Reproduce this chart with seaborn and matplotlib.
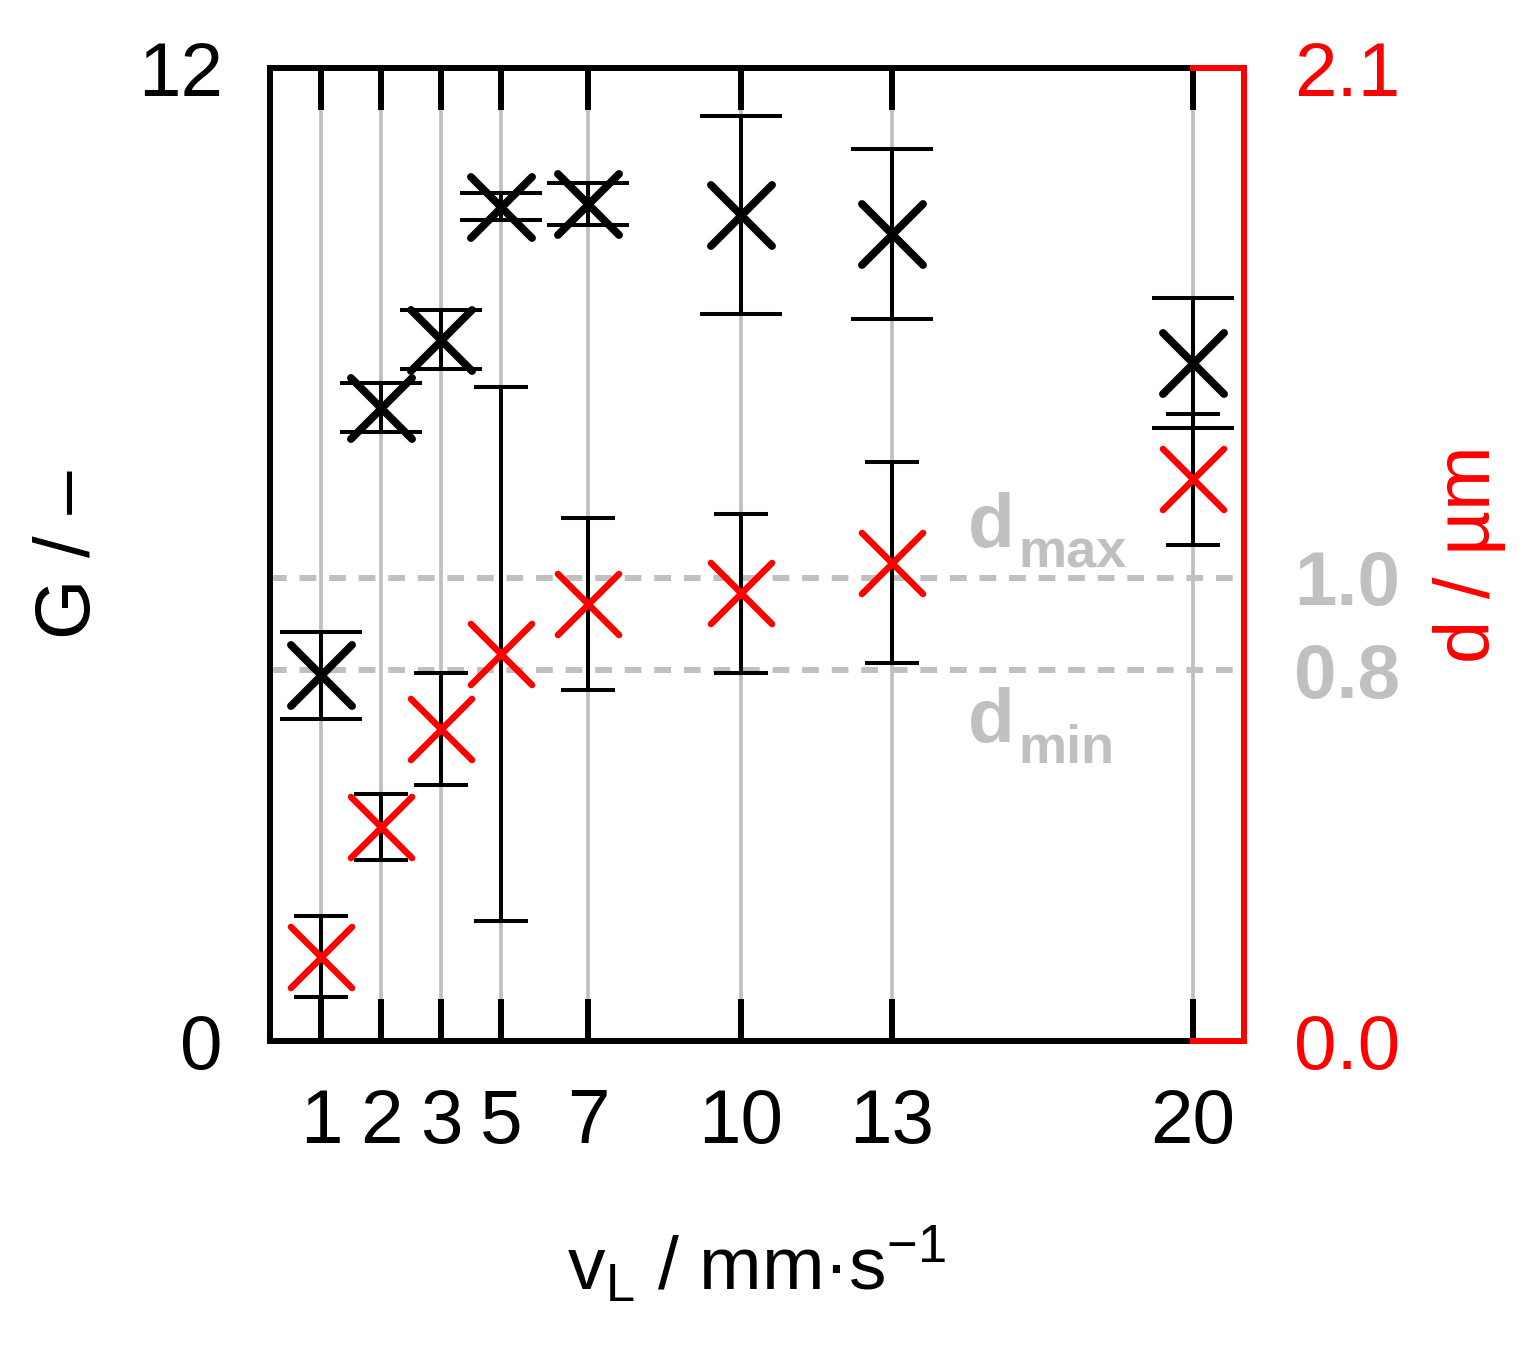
import numpy as np
import matplotlib
matplotlib.use("Agg")
import matplotlib.pyplot as plt
import matplotlib.transforms as mtransforms
import seaborn as sns

# laser scan speed v_L (mm/s)
speed = [1, 2, 3, 5, 7, 10, 13, 20]
speed_labels = ["1", "2", "3", "5", "7", "10", "13", "20"]

# G (left axis), mean and std
g_mean = [4.51, 7.81, 8.65, 10.29, 10.32, 10.19, 9.95, 8.36]
g_err = [0.54, 0.30, 0.36, 0.17, 0.26, 1.22, 1.05, 0.80]

# structure period d in µm (right axis), mean and std
d_mean = [0.182, 0.462, 0.673, 0.835, 0.943, 0.966, 1.032, 1.212]
d_err = [0.087, 0.072, 0.121, 0.577, 0.185, 0.172, 0.217, 0.141]

d_min, d_max = 0.8, 1.0
grey = "#c0c0c0"

# the x axis of the original is stretched by hand, so rebuild it
# as a piecewise linear scale through the tick positions
knot_v = [0, 1, 2, 3, 5, 7, 10, 13, 20, 30]
knot_u = [-9, 51, 111, 171, 231, 318, 471, 622, 923, 1353]


def fwd(v):
    return np.interp(v, knot_v, knot_u)


def inv(u):
    return np.interp(u, knot_u, knot_v)


sns.set_style("white")
plt.rcParams["font.family"] = ["Liberation Sans", "DejaVu Sans"]
plt.rcParams["mathtext.fontset"] = "custom"
plt.rcParams["mathtext.rm"] = "Liberation Sans"
plt.rcParams["mathtext.it"] = "Liberation Sans:italic"
plt.rcParams["mathtext.bf"] = "Liberation Sans:bold"
for key in ["text.color", "axes.labelcolor", "xtick.color", "ytick.color"]:
    plt.rcParams[key] = "black"

fig = plt.figure(figsize=(15.38, 13.49), dpi=100)
ax = fig.add_axes([270 / 1538, 308 / 1349, 974 / 1538, 973 / 1349])
ax.set_xscale("function", functions=(fwd, inv))
ax2 = ax.twinx()

x_lo, x_hi = inv(0), inv(974)

# vertical grid at the tick positions
ax.set_axisbelow(True)
ax.xaxis.grid(True, color=grey, lw=2.7)
ax.yaxis.grid(False)
ax2.grid(False)

# d_min / d_max reference lines (under the markers)
trans = mtransforms.blended_transform_factory(ax.transAxes, ax2.transData)
for level in (d_min, d_max):
    ax.plot([0, 1], [level, level], transform=trans, color=grey, lw=4.3,
            dashes=(2.8, 2.15), zorder=1)

# labels of the reference lines: "d" plus a lowered subscript
for main_y, sub in [(0.5077, "max"), (0.3073, "min")]:
    ax.text(0.7166, main_y, "d", transform=ax.transAxes, color=grey,
            fontsize=55, fontweight="bold", ha="left", va="baseline")
    ax.text(0.7680, main_y - 0.0213, sub, transform=ax.transAxes,
            color=grey, fontsize=39, fontweight="bold", ha="left",
            va="baseline")

# G series
ax.errorbar(speed, g_mean, yerr=g_err, fmt="none", ecolor="black",
            elinewidth=2.9, capsize=29.5, capthick=2.9, zorder=3)
sns.scatterplot(x=speed, y=g_mean, ax=ax, marker="x", s=44 ** 2,
                color="black", zorder=4)
ax.collections[-1].set_linewidth(5.6)
ax.collections[-1].set_capstyle("round")

# d series
ax2.errorbar(speed, d_mean, yerr=d_err, fmt="none", ecolor="black",
             elinewidth=2.9, capsize=19.5, capthick=2.9, zorder=3)
sns.scatterplot(x=speed, y=d_mean, ax=ax2, marker="x", s=44 ** 2,
                color="red", zorder=4)
ax2.collections[-1].set_linewidth(4.7)
ax2.collections[-1].set_capstyle("round")

ax.set_xlim(x_lo, x_hi)
ax.set_ylim(0, 12)
ax2.set_ylim(0, 2.1)

# ticks
ax.set_xticks(speed, labels=speed_labels)
ax.xaxis.set_minor_locator(matplotlib.ticker.NullLocator())
ax.set_yticks([0, 12], labels=["0", "12"])
ax.tick_params(axis="x", direction="in", length=30, width=4.3, top=True,
               bottom=True, pad=34, labelsize=55, color="black")
ax.tick_params(axis="y", length=0, pad=34, labelsize=55)
ax2.set_yticks([0, d_min, d_max, 2.1], labels=["0.0", "0.8", "1.0", "2.1"])
ax2.tick_params(axis="y", length=0, pad=36, labelsize=55, labelcolor="red")
for lab in ax2.get_yticklabels()[1:3]:
    lab.set_color(grey)
    lab.set_fontweight("bold")

# frame: black on the left part, red on the right axis
for side in ["top", "bottom", "left"]:
    ax.spines[side].set_color("black")
    ax.spines[side].set_linewidth(4.3)
ax.spines["right"].set_visible(False)
ax.spines["top"].set_bounds(x_lo, 20)
ax.spines["bottom"].set_bounds(x_lo, 20)
ax2.spines["left"].set_visible(False)
for side in ["top", "bottom", "right"]:
    ax2.spines[side].set_color("red")
    ax2.spines[side].set_linewidth(4.3)
ax2.spines["top"].set_bounds(20, x_hi)
ax2.spines["bottom"].set_bounds(20, x_hi)

# axis labels
ax.set_xlabel(r"v$_\mathregular{L}$ / mm·s$^{\mathregular{-1}}$", fontsize=54)
ax.set_ylabel("G / –", fontsize=56)
ax2.set_ylabel("d / µm", fontsize=56, color="red")
ax.xaxis.set_label_coords(0.5, -0.188)
ax.yaxis.set_label_coords(-0.168, 0.5)
ax2.yaxis.set_label_coords(1.194, 0.5)

fig.savefig("out.png", dpi=100)
plt.close(fig)
